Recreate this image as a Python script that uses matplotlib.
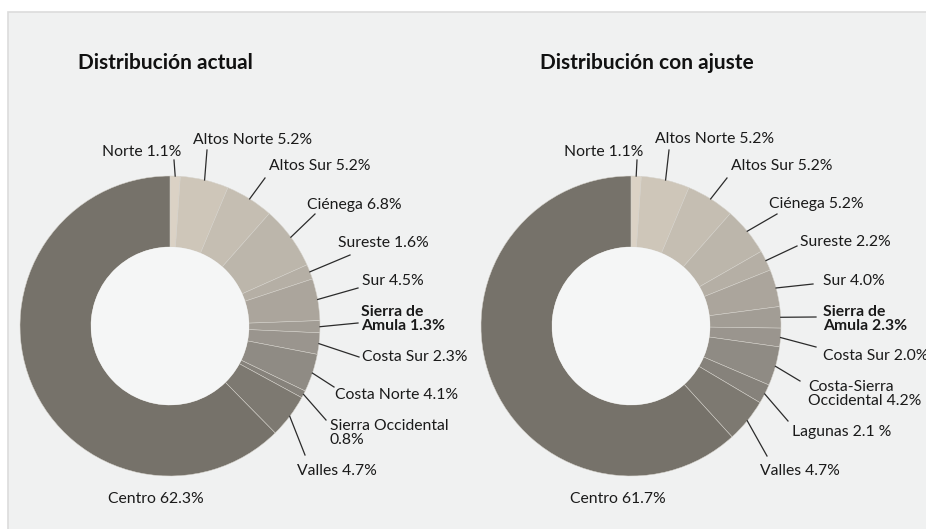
import matplotlib.pyplot as plt
from matplotlib.patches import Rectangle, Circle
import numpy as np

plt.rcParams['font.family'] = ['Lato', 'DejaVu Sans']

W, H = 926, 529

# Distribución actual
labels_actual = ['Norte 1.1%', 'Altos Norte 5.2%', 'Altos Sur 5.2%', 'Ciénega 6.8%',
                 'Sureste 1.6%', 'Sur 4.5%', 'Sierra de\nAmula 1.3%', 'Costa Sur 2.3%',
                 'Costa Norte 4.1%', 'Sierra Occidental\n0.8%', 'Valles 4.7%', 'Centro 62.3%']
values_actual = [1.1, 5.2, 5.2, 6.8, 1.6, 4.5, 1.3, 2.3, 4.1, 0.8, 4.7, 62.3]

# Distribución con ajuste
labels_ajuste = ['Norte 1.1%', 'Altos Norte 5.2%', 'Altos Sur 5.2%', 'Ciénega 5.2%',
                 'Sureste 2.2%', 'Sur 4.0%', 'Sierra de\nAmula 2.3%', 'Costa Sur 2.0%',
                 'Costa-Sierra\nOccidental 4.2%', 'Lagunas 2.1 %', 'Valles 4.7%', 'Centro 61.7%']
values_ajuste = [1.1, 5.2, 5.2, 5.2, 2.2, 4.0, 2.3, 2.0, 4.2, 2.1, 4.7, 61.7]

colors = ['#dbd2c5', '#cec6b9', '#c5beb2', '#bcb6ab', '#b5afa5', '#aba59c',
          '#a29d95', '#9a958e', '#8f8b84', '#86827b', '#7d7971', '#76726a']

# label layout in pixels (x, y from top): text anchor, ha, leader end
layout_actual = [
    ((181, 152), 'right', (174, 160)),
    ((193, 140), 'left', (207, 150)),
    ((269, 166), 'left', (265, 178)),
    ((307, 205), 'left', (315, 214)),
    ((338, 243), 'left', (350, 255)),
    ((362, 281), 'left', (358, 288)),
    ((361, 319), 'left', (358, 323)),
    ((362, 357), 'left', (359, 357)),
    ((335, 395), 'left', (334, 387)),
    ((330, 433), 'left', (326, 420)),
    ((297, 471), 'left', (305, 455)),
    ((156, 499), 'center', None),
]
layout_ajuste = [
    ((643, 152), 'right', (637, 160)),
    ((655, 139), 'left', (669, 150)),
    ((731, 166), 'left', (727, 178)),
    ((769, 204), 'left', (777, 214)),
    ((800, 242), 'left', (797, 246)),
    ((823, 281), 'left', (813, 284)),
    ((823, 319), 'left', (816, 317)),
    ((823, 356), 'left', (816, 347)),
    ((808, 394), 'left', (800, 381)),
    ((792, 432), 'left', (788, 421)),
    ((760, 471), 'left', (767, 456)),
    ((618, 499), 'center', None),
]


def py(y):
    return H - y


fig = plt.figure(figsize=(W / 100, H / 100), dpi=100, facecolor='white')
ax = fig.add_axes([0, 0, 1, 1])

ax.add_patch(Rectangle((8, -5), W, H - 7, facecolor='#f0f1f1',
                       edgecolor='#dcdcdc', linewidth=1.2, zorder=0))

R, r_in = 150, 79


def donut(cx, cy, values, labels, layout, title, tx):
    wedges, _ = ax.pie(values, colors=colors, startangle=90, counterclock=False,
                       radius=R, center=(cx, py(cy)),
                       wedgeprops=dict(width=R - r_in, edgecolor='#d6d3cc', linewidth=0.35))
    ax.add_patch(Circle((cx, py(cy)), r_in, facecolor='#f5f6f6', edgecolor='none', zorder=3))
    for w, lab, ((lx, ly), ha, lead) in zip(wedges, labels, layout):
        bold = lab.startswith('Sierra de')
        ax.text(lx, py(ly), lab, ha=ha, va='center', fontsize=11.3,
                color='#1a1a1a', fontweight='bold' if bold else 'normal',
                linespacing=1.0, zorder=5)
        if lead is not None:
            ang = np.deg2rad((w.theta1 + w.theta2) / 2)
            x0 = cx + R * np.cos(ang)
            y0 = py(cy) + R * np.sin(ang)
            ax.plot([x0, lead[0]], [y0, py(lead[1])], color='#2b2b2b', lw=0.9, zorder=4)
    ax.text(tx, py(63), title, ha='left', va='center', fontsize=15,
            fontweight='bold', color='#111111')


donut(170, 326, values_actual, labels_actual, layout_actual, 'Distribución actual', 78)
donut(631, 326, values_ajuste, labels_ajuste, layout_ajuste, 'Distribución con ajuste', 540)

ax.set_xlim(0, W)
ax.set_ylim(0, H)
ax.set_aspect('equal')
ax.axis('off')

fig.savefig('out.png', dpi=100, facecolor='white')
